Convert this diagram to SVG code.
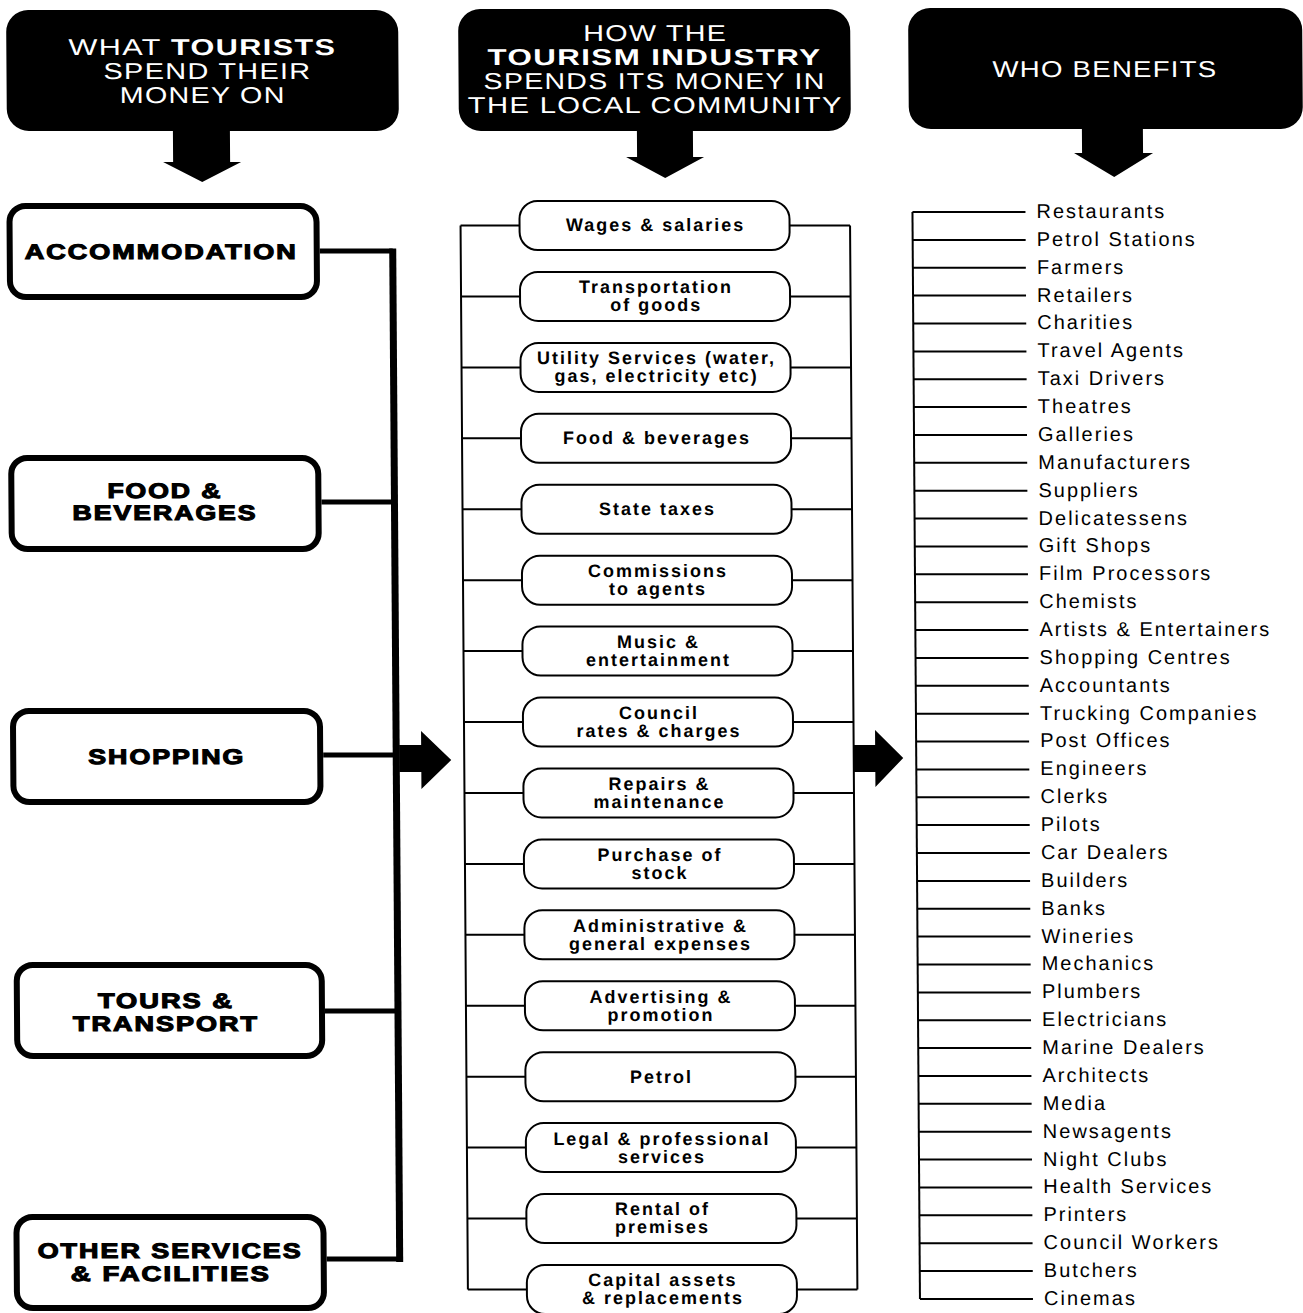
<svg xmlns="http://www.w3.org/2000/svg" width="1303" height="1313" viewBox="0 0 1303 1313">
<style>
.hdr{fill:#000}
.ht{font-family:"Liberation Sans",Arial,sans-serif;font-size:23px;fill:#fff;letter-spacing:1px}
.htb{font-weight:bold}
.lbox{fill:#fff;stroke:#000;stroke-width:6}
.lt{font-family:"Liberation Sans",Arial,sans-serif;font-size:21px;font-weight:bold;fill:#000;stroke:#000;stroke-width:1.1;letter-spacing:1.5px}
.mbox{fill:#fff;stroke:#000;stroke-width:2}
.mt{font-family:"Liberation Sans",Arial,sans-serif;font-size:18px;font-weight:bold;fill:#000;letter-spacing:2px;text-anchor:middle}
.rt{font-family:"Liberation Sans",Arial,sans-serif;font-size:20px;fill:#000;letter-spacing:2px}
.thick{stroke:#000;stroke-width:5;fill:none}
.bar{stroke:#000;stroke-width:7;fill:none}
.thin{stroke:#000;stroke-width:2;fill:none}
.arr{fill:#000}
</style>
<rect width="1303" height="1313" fill="#fff"/>
<g transform="matrix(1 0 0.0069 1 0 0)">
<g id="header-left">
<rect class="hdr" x="6" y="10" width="392" height="121" rx="22"/>
<text class="ht" x="68" y="55" textLength="268" lengthAdjust="spacingAndGlyphs">WHAT <tspan class="htb">TOURISTS</tspan></text>
<text class="ht" x="103" y="79" textLength="208" lengthAdjust="spacingAndGlyphs">SPEND THEIR</text>
<text class="ht" x="119" y="103" textLength="166" lengthAdjust="spacingAndGlyphs">MONEY ON</text>
<path class="arr" d="M172,128 L229,128 L229,162 L240,162 L201,182 L162,162 L172,162 Z"/>
</g>
<g id="header-middle">
<rect class="hdr" x="458" y="9" width="392" height="122" rx="22"/>
<text class="ht" x="583" y="41" textLength="144" lengthAdjust="spacingAndGlyphs">HOW THE</text>
<text class="ht htb" x="487" y="65" textLength="334" lengthAdjust="spacingAndGlyphs">TOURISM INDUSTRY</text>
<text class="ht" x="483" y="89" textLength="342" lengthAdjust="spacingAndGlyphs">SPENDS ITS MONEY IN</text>
<text class="ht" x="467" y="113" textLength="375" lengthAdjust="spacingAndGlyphs">THE LOCAL COMMUNITY</text>
<path class="arr" d="M636,128 L692,128 L692,157 L703,157 L664,178 L625,157 L636,157 Z"/>
</g>
<g id="header-right">
<rect class="hdr" x="908" y="8" width="394" height="121" rx="22"/>
<text class="ht" x="992" y="77" textLength="225" lengthAdjust="spacingAndGlyphs">WHO BENEFITS</text>
<path class="arr" d="M1081,126 L1142,126 L1142,153 L1152,153 L1113,177 L1073,153 L1081,153 Z"/>
</g>

<g id="connectors">
<path class="thick" d="M318,251 H391 M318,502 H391 M318,755 H391 M318,1011 H391 M318,1259 H391"/>
<path class="bar" d="M391,248.5 V1262"/>
<path class="arr" d="M394,745 L416,745 L416,731 L446,760 L416,789 L416,772 L394,772 Z"/>
<path class="thin" d="M459,225.5 V1289.5 M848.5,225.5 V1289.5"/>
<path class="thin" d="M459,225.5 H518 M788,225.5 H848.5 M459,296.4 H518 M788,296.4 H848.5 M459,367.4 H518 M788,367.4 H848.5 M459,438.3 H518 M788,438.3 H848.5 M459,509.2 H518 M788,509.2 H848.5 M459,580.2 H518 M788,580.2 H848.5 M459,651.1 H518 M788,651.1 H848.5 M459,722 H518 M788,722 H848.5 M459,792.9 H518 M788,792.9 H848.5 M459,863.9 H518 M788,863.9 H848.5 M459,934.8 H518 M788,934.8 H848.5 M459,1005.7 H518 M788,1005.7 H848.5 M459,1076.7 H518 M788,1076.7 H848.5 M459,1147.6 H518 M788,1147.6 H848.5 M459,1218.5 H518 M788,1218.5 H848.5 M459,1289.5 H518 M788,1289.5 H848.5"/>
<path class="arr" d="M848,745 L870,745 L870,730 L898,758 L870,787 L870,772 L848,772 Z"/>
<path class="thin" d="M911,212 V1299"/>
<path class="thin" d="M911,212 H1024 M911,239.9 H1024 M911,267.7 H1024 M911,295.6 H1024 M911,323.5 H1024 M911,351.4 H1024 M911,379.2 H1024 M911,407.1 H1024 M911,435 H1024 M911,462.8 H1024 M911,490.7 H1024 M911,518.6 H1024 M911,546.4 H1024 M911,574.3 H1024 M911,602.2 H1024 M911,630.1 H1024 M911,657.9 H1024 M911,685.8 H1024 M911,713.7 H1024 M911,741.5 H1024 M911,769.4 H1024 M911,797.3 H1024 M911,825.1 H1024 M911,853 H1024 M911,880.9 H1024 M911,908.8 H1024 M911,936.6 H1024 M911,964.5 H1024 M911,992.4 H1024 M911,1020.2 H1024 M911,1048.1 H1024 M911,1076 H1024 M911,1103.8 H1024 M911,1131.7 H1024 M911,1159.6 H1024 M911,1187.5 H1024 M911,1215.3 H1024 M911,1243.2 H1024 M911,1271.1 H1024 M911,1298.9 H1024"/>
</g>

<g id="accommodation"><rect class="lbox" x="8" y="206" width="307" height="91" rx="16"/><text class="lt" x="23" y="259" textLength="273" lengthAdjust="spacingAndGlyphs">ACCOMMODATION</text></g>
<g id="food-beverages"><rect class="lbox" x="8" y="458" width="307" height="91" rx="16"/><text class="lt" x="104" y="498" textLength="115" lengthAdjust="spacingAndGlyphs">FOOD &amp;</text><text class="lt" x="69" y="520" textLength="185" lengthAdjust="spacingAndGlyphs">BEVERAGES</text></g>
<g id="shopping"><rect class="lbox" x="8" y="711" width="307" height="91" rx="16"/><text class="lt" x="83" y="764" textLength="157" lengthAdjust="spacingAndGlyphs">SHOPPING</text></g>
<g id="tours-transport"><rect class="lbox" x="10" y="965" width="305" height="91" rx="16"/><text class="lt" x="91" y="1008" textLength="136" lengthAdjust="spacingAndGlyphs">TOURS &amp;</text><text class="lt" x="66" y="1031" textLength="186" lengthAdjust="spacingAndGlyphs">TRANSPORT</text></g>
<g id="other-services"><rect class="lbox" x="8" y="1217" width="307" height="91" rx="16"/><text class="lt" x="29" y="1258" textLength="265" lengthAdjust="spacingAndGlyphs">OTHER SERVICES</text><text class="lt" x="62" y="1281" textLength="200" lengthAdjust="spacingAndGlyphs">&amp; FACILITIES</text></g>

<g id="m-wages"><rect class="mbox" x="518" y="201" width="270" height="49" rx="18"/><text class="mt" x="654" y="231">Wages &amp; salaries</text></g>
<g id="m-transport"><rect class="mbox" x="518" y="271.9" width="270" height="49" rx="18"/><text class="mt" x="654" y="293.4">Transportation</text><text class="mt" x="654" y="311.4">of goods</text></g>
<g id="m-utility"><rect class="mbox" x="518" y="342.9" width="270" height="49" rx="18"/><text class="mt" x="654" y="364.4">Utility Services (water,</text><text class="mt" x="654" y="382.4">gas, electricity etc)</text></g>
<g id="m-food"><rect class="mbox" x="518" y="413.8" width="270" height="49" rx="18"/><text class="mt" x="654" y="444.3">Food &amp; beverages</text></g>
<g id="m-state"><rect class="mbox" x="518" y="484.7" width="270" height="49" rx="18"/><text class="mt" x="654" y="515.2">State taxes</text></g>
<g id="m-commissions"><rect class="mbox" x="518" y="555.7" width="270" height="49" rx="18"/><text class="mt" x="654" y="577.2">Commissions</text><text class="mt" x="654" y="595.2">to agents</text></g>
<g id="m-music"><rect class="mbox" x="518" y="626.6" width="270" height="49" rx="18"/><text class="mt" x="654" y="648.1">Music &amp;</text><text class="mt" x="654" y="666.1">entertainment</text></g>
<g id="m-council"><rect class="mbox" x="518" y="697.5" width="270" height="49" rx="18"/><text class="mt" x="654" y="719">Council</text><text class="mt" x="654" y="737">rates &amp; charges</text></g>
<g id="m-repairs"><rect class="mbox" x="518" y="768.4" width="270" height="49" rx="18"/><text class="mt" x="654" y="789.9">Repairs &amp;</text><text class="mt" x="654" y="807.9">maintenance</text></g>
<g id="m-purchase"><rect class="mbox" x="518" y="839.4" width="270" height="49" rx="18"/><text class="mt" x="654" y="860.9">Purchase of</text><text class="mt" x="654" y="878.9">stock</text></g>
<g id="m-admin"><rect class="mbox" x="518" y="910.3" width="270" height="49" rx="18"/><text class="mt" x="654" y="931.8">Administrative &amp;</text><text class="mt" x="654" y="949.8">general expenses</text></g>
<g id="m-advertising"><rect class="mbox" x="518" y="981.2" width="270" height="49" rx="18"/><text class="mt" x="654" y="1002.7">Advertising &amp;</text><text class="mt" x="654" y="1020.7">promotion</text></g>
<g id="m-petrol"><rect class="mbox" x="518" y="1052.2" width="270" height="49" rx="18"/><text class="mt" x="654" y="1082.7">Petrol</text></g>
<g id="m-legal"><rect class="mbox" x="518" y="1123.1" width="270" height="49" rx="18"/><text class="mt" x="654" y="1144.6">Legal &amp; professional</text><text class="mt" x="654" y="1162.6">services</text></g>
<g id="m-rental"><rect class="mbox" x="518" y="1194" width="270" height="49" rx="18"/><text class="mt" x="654" y="1215.5">Rental of</text><text class="mt" x="654" y="1233.5">premises</text></g>
<g id="m-capital"><rect class="mbox" x="518" y="1265" width="270" height="49" rx="18"/><text class="mt" x="654" y="1286.5">Capital assets</text><text class="mt" x="654" y="1304.5">&amp; replacements</text></g>

<g id="beneficiaries">
<text class="rt" x="1035" y="218">Restaurants</text>
<text class="rt" x="1035" y="245.9">Petrol Stations</text>
<text class="rt" x="1035" y="273.7">Farmers</text>
<text class="rt" x="1035" y="301.6">Retailers</text>
<text class="rt" x="1035" y="329.5">Charities</text>
<text class="rt" x="1035" y="357.4">Travel Agents</text>
<text class="rt" x="1035" y="385.2">Taxi Drivers</text>
<text class="rt" x="1035" y="413.1">Theatres</text>
<text class="rt" x="1035" y="441">Galleries</text>
<text class="rt" x="1035" y="468.8">Manufacturers</text>
<text class="rt" x="1035" y="496.7">Suppliers</text>
<text class="rt" x="1035" y="524.6">Delicatessens</text>
<text class="rt" x="1035" y="552.4">Gift Shops</text>
<text class="rt" x="1035" y="580.3">Film Processors</text>
<text class="rt" x="1035" y="608.2">Chemists</text>
<text class="rt" x="1035" y="636.1">Artists &amp; Entertainers</text>
<text class="rt" x="1035" y="663.9">Shopping Centres</text>
<text class="rt" x="1035" y="691.8">Accountants</text>
<text class="rt" x="1035" y="719.7">Trucking Companies</text>
<text class="rt" x="1035" y="747.5">Post Offices</text>
<text class="rt" x="1035" y="775.4">Engineers</text>
<text class="rt" x="1035" y="803.3">Clerks</text>
<text class="rt" x="1035" y="831.1">Pilots</text>
<text class="rt" x="1035" y="859">Car Dealers</text>
<text class="rt" x="1035" y="886.9">Builders</text>
<text class="rt" x="1035" y="914.8">Banks</text>
<text class="rt" x="1035" y="942.6">Wineries</text>
<text class="rt" x="1035" y="970.5">Mechanics</text>
<text class="rt" x="1035" y="998.4">Plumbers</text>
<text class="rt" x="1035" y="1026.2">Electricians</text>
<text class="rt" x="1035" y="1054.1">Marine Dealers</text>
<text class="rt" x="1035" y="1082">Architects</text>
<text class="rt" x="1035" y="1109.8">Media</text>
<text class="rt" x="1035" y="1137.7">Newsagents</text>
<text class="rt" x="1035" y="1165.6">Night Clubs</text>
<text class="rt" x="1035" y="1193.5">Health Services</text>
<text class="rt" x="1035" y="1221.3">Printers</text>
<text class="rt" x="1035" y="1249.2">Council Workers</text>
<text class="rt" x="1035" y="1277.1">Butchers</text>
<text class="rt" x="1035" y="1304.9">Cinemas</text>
</g>
</g>
</svg>
